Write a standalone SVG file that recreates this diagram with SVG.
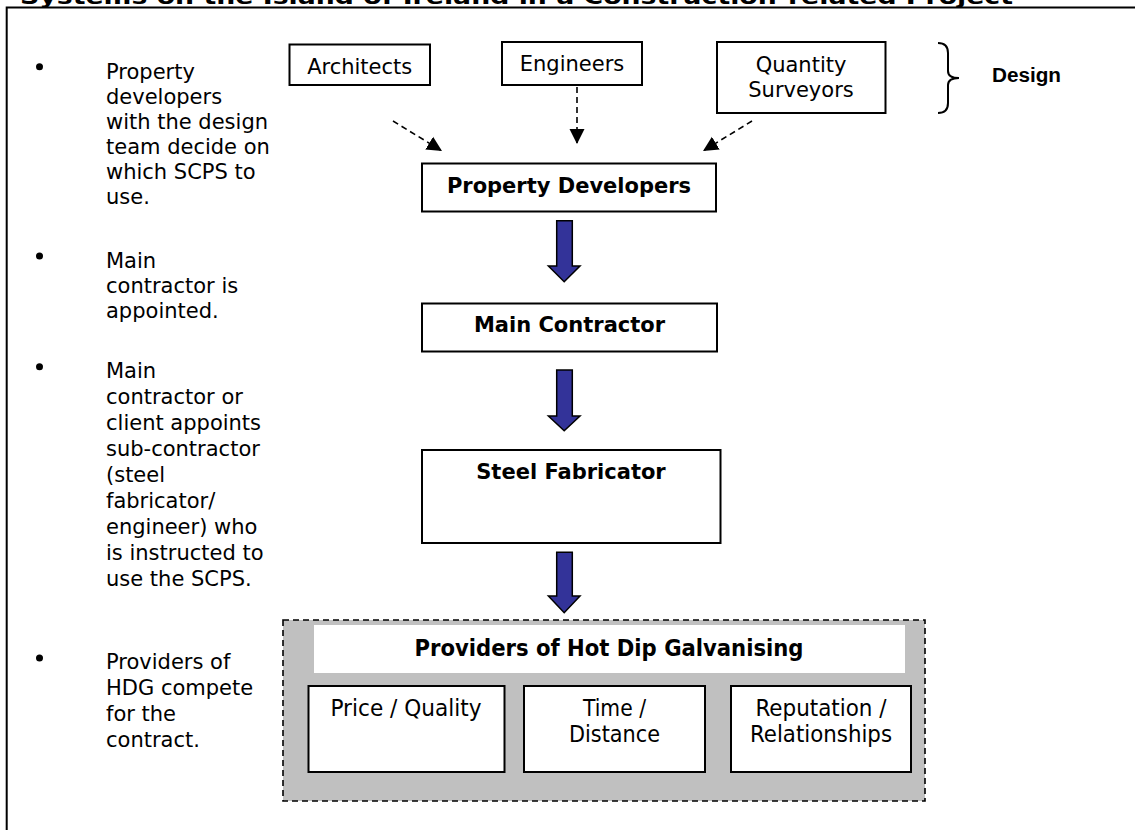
<svg xmlns="http://www.w3.org/2000/svg" width="1135" height="830" viewBox="0 0 1135 830">
<style>
.t{font-family:"DejaVu Sans",Verdana,sans-serif;font-size:21px;fill:#000}
.b{font-weight:bold}
.c{text-anchor:middle}
.box{fill:#fff;stroke:#000;stroke-width:2}
.dash{fill:none;stroke:#000;stroke-width:1.6;stroke-dasharray:6 4}
.blk{fill:#333399;stroke:#000;stroke-width:1.5;stroke-linejoin:miter}
.n{font-family:"DejaVu Sans Condensed","DejaVu Sans",Tahoma,sans-serif;font-size:22.5px;fill:#000}
</style>
<defs>
<marker id="ah" markerWidth="16" markerHeight="16" refX="15" refY="8" orient="auto" markerUnits="userSpaceOnUse">
<path d="M0,0.5 L15,8 L0,15.5 Z" fill="#000"/>
</marker>
</defs>
<rect width="1135" height="830" fill="#fff"/>
<text class="t b" x="20" y="4" font-size="22" textLength="993" lengthAdjust="spacingAndGlyphs">Systems on the Island of Ireland in a Construction-related Project</text>
<path d="M6.7,830 V7.5 H1135" fill="none" stroke="#000" stroke-width="2"/>

<g id="bullets">
<circle cx="39.5" cy="66.7" r="3.5"/>
<text class="t" x="106"><tspan x="106" y="79">Property</tspan><tspan x="106" y="104">developers</tspan><tspan x="106" y="129">with the design</tspan><tspan x="106" y="154">team decide on</tspan><tspan x="106" y="179">which SCPS to</tspan><tspan x="106" y="204">use.</tspan></text>
<circle cx="39.5" cy="256" r="3.5"/>
<text class="t" x="106"><tspan x="106" y="268">Main</tspan><tspan x="106" y="293">contractor is</tspan><tspan x="106" y="318">appointed.</tspan></text>
<circle cx="39.5" cy="366.7" r="3.5"/>
<text class="t" x="106"><tspan x="106" y="378">Main</tspan><tspan x="106" y="404">contractor or</tspan><tspan x="106" y="430">client appoints</tspan><tspan x="106" y="456">sub-contractor</tspan><tspan x="106" y="482">(steel</tspan><tspan x="106" y="508">fabricator/</tspan><tspan x="106" y="534">engineer) who</tspan><tspan x="106" y="560">is instructed to</tspan><tspan x="106" y="586">use the SCPS.</tspan></text>
<circle cx="39.5" cy="658" r="3.5"/>
<text class="t" x="106"><tspan x="106" y="669">Providers of</tspan><tspan x="106" y="695">HDG compete</tspan><tspan x="106" y="721">for the</tspan><tspan x="106" y="747">contract.</tspan></text>
</g>

<g id="architects">
<rect class="box" x="289.5" y="44.5" width="140.5" height="40.5"/>
<text class="t c" x="359.7" y="73.5">Architects</text>
</g>
<g id="engineers">
<rect class="box" x="502" y="42" width="140" height="43"/>
<text class="t c" x="572" y="70.5">Engineers</text>
</g>
<g id="quantity-surveyors">
<rect class="box" x="717" y="42" width="168.5" height="71"/>
<text class="t c" x="801" y="71.5">Quantity</text>
<text class="t c" x="801" y="97">Surveyors</text>
</g>
<g id="design">
<path d="M938,43 Q948,43 948,53 L948,71 Q948,78 959,78 Q948,78 948,85 L948,103 Q948,113 938,113" fill="none" stroke="#000" stroke-width="2"/>
<text x="992" y="82" font-family="'Liberation Sans',Arial,sans-serif" font-size="20" font-weight="bold" textLength="69" lengthAdjust="spacingAndGlyphs">Design</text>
</g>
<g id="property-developers">
<rect class="box" x="422" y="163.5" width="294" height="48"/>
<text class="t b c" x="569" y="193">Property Developers</text>
</g>
<g id="main-contractor">
<rect class="box" x="422" y="303.5" width="295" height="48"/>
<text class="t b c" x="569.5" y="331.5">Main Contractor</text>
</g>
<g id="steel-fabricator">
<rect class="box" x="422" y="450" width="298.5" height="93"/>
<text class="t b c" x="571" y="479">Steel Fabricator</text>
</g>
<g id="hdg-providers">
<rect x="283" y="620" width="642" height="181" fill="#c0c0c0" stroke="#000" stroke-width="1.6" stroke-dasharray="6 4"/>
<rect x="314" y="625" width="591" height="48" fill="#fff"/>
<text class="n b c" x="609" y="656" font-size="21.5" textLength="389" lengthAdjust="spacingAndGlyphs">Providers of Hot Dip Galvanising</text>
</g>
<g id="price-quality">
<rect class="box" x="308.5" y="686" width="196" height="86"/>
<text class="n c" x="406" y="716" textLength="151" lengthAdjust="spacingAndGlyphs">Price / Quality</text>
</g>
<g id="time-distance">
<rect class="box" x="524" y="686" width="181" height="86"/>
<text class="n c" x="614.5" y="716" textLength="63" lengthAdjust="spacingAndGlyphs">Time /</text>
<text class="n c" x="614.5" y="742" textLength="91" lengthAdjust="spacingAndGlyphs">Distance</text>
</g>
<g id="reputation-relationships">
<rect class="box" x="731" y="686" width="180" height="86"/>
<text class="n c" x="821" y="716" textLength="131" lengthAdjust="spacingAndGlyphs">Reputation /</text>
<text class="n c" x="821" y="742" textLength="142" lengthAdjust="spacingAndGlyphs">Relationships</text>
</g>

<g id="connectors">
<line class="dash" x1="393" y1="121" x2="442" y2="151" marker-end="url(#ah)"/>
<line class="dash" x1="577" y1="87" x2="577" y2="144" marker-end="url(#ah)"/>
<line class="dash" x1="752" y1="121" x2="703" y2="151" marker-end="url(#ah)"/>
<polygon class="blk" points="556.7,220.7 572.3,220.7 572.3,266 580,266 564.2,281.7 548.4,266 556.7,266"/>
<polygon class="blk" points="556.7,370 572.3,370 572.3,416 580,416 564.2,430.7 548.4,416 556.7,416"/>
<polygon class="blk" points="556.7,552.3 572.3,552.3 572.3,596 580,596 564.2,612.7 548.4,596 556.7,596"/>
</g>
</svg>
